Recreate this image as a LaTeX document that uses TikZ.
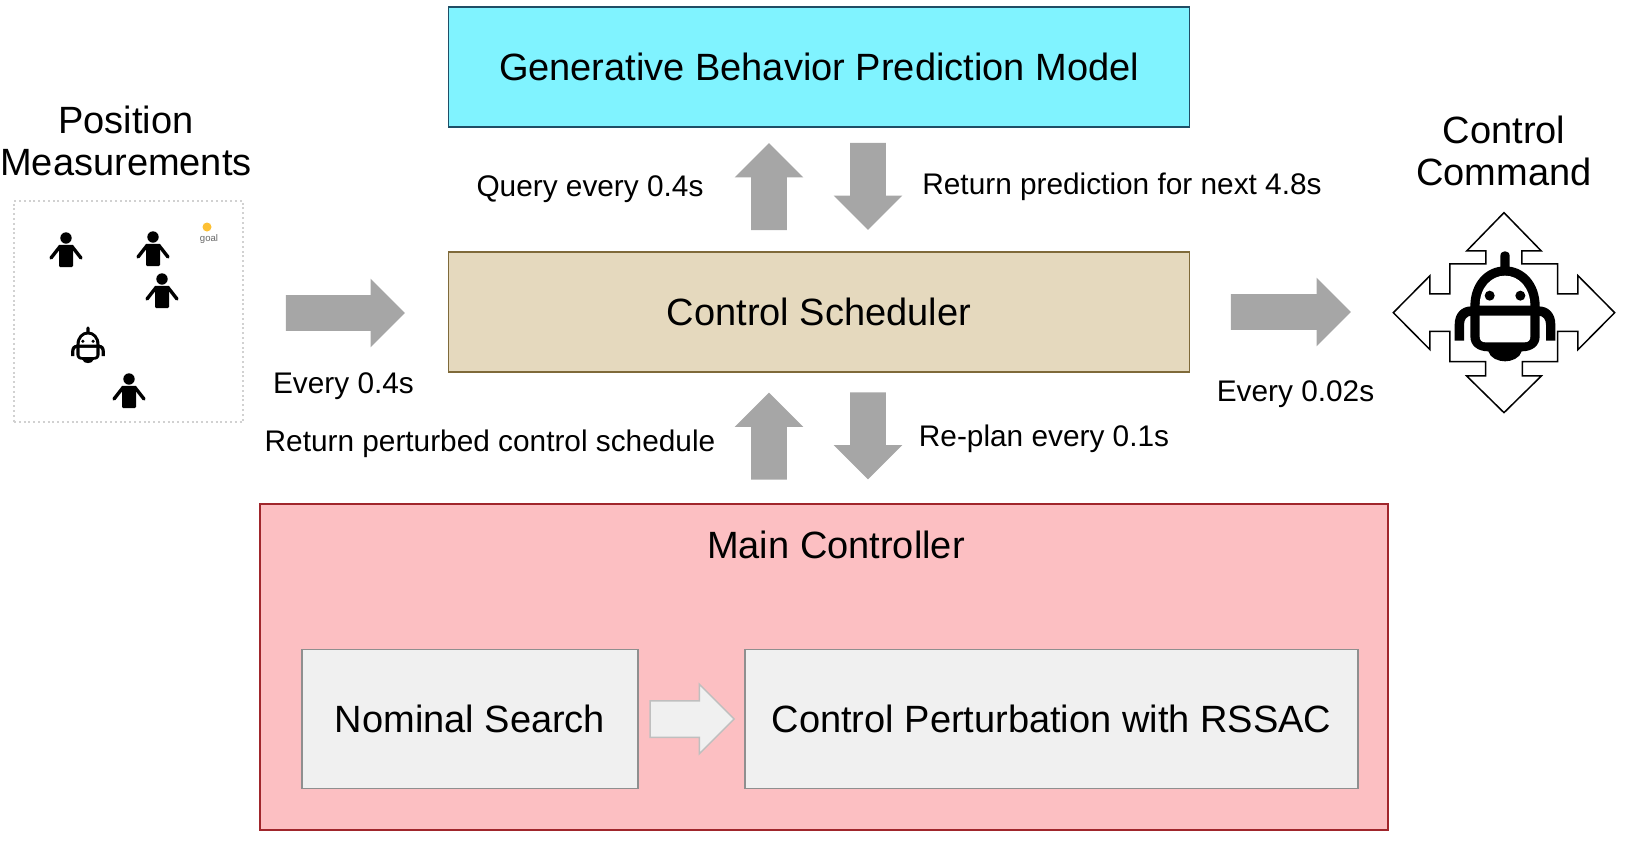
\documentclass[tikz,border=0pt]{standalone}
\usepackage{fontspec}
\setmainfont{Liberation Sans}
\usepackage{xcolor}
\usepackage{tikz}
\usetikzlibrary{shapes.arrows}
\definecolor{genfill}{HTML}{80F3FF}
\definecolor{genline}{HTML}{1F4E66}
\definecolor{schedfill}{HTML}{E5D9BE}
\definecolor{schedline}{HTML}{7F6A3A}
\definecolor{mainfill}{HTML}{FCBFC2}
\definecolor{mainline}{HTML}{A0262C}
\definecolor{subfill}{HTML}{F0F0F0}
\definecolor{subline}{HTML}{8F8F8F}
\definecolor{flowgray}{HTML}{A6A6A6}
\definecolor{goalcol}{HTML}{FDC033}
\newcommand{\bigtxt}{\fontsize{19}{21}\selectfont}
\newcommand{\smalltxt}{\fontsize{14.9}{18}\selectfont}
\tikzstyle{box}=[draw,rectangle,line width=0.75pt,inner sep=0,outer sep=0,align=center,font=\bigtxt]
\tikzstyle{wide}=[box,minimum width=370.5pt,minimum height=60pt]
\tikzstyle{sub}=[box,fill=subfill,draw=subline,minimum height=69.5pt]
\tikzstyle{lab}=[align=center,inner sep=0,font=\smalltxt]
\tikzstyle{head}=[align=center,inner sep=0,font=\bigtxt]
\tikzstyle{flowbase}=[single arrow,single arrow head extend=8.25pt,single arrow tip angle=90,single arrow head indent=0,
inner xsep=0,inner ysep=8.75pt,outer sep=0]
\tikzstyle{flow}=[flowbase,fill=flowgray]
\tikzset{
person/.pic={
	\fill[black] (0,0) circle[radius=5.7];
	\fill[black,rounded corners=0.6pt] (-7,7) rectangle (7,29);
	\draw[black,line width=1.7pt,line cap=round] (-15,20) -- (-6,8.5) -- (6,8.5) -- (15,20);
},
robot/.pic={
	\fill[black] (-14,-130) -- (-14,-171) .. controls (-14,-190) and (14,-190) .. (14,-171) -- (14,-130) -- cycle;
	% shell with the bump below
	\fill[black] (-104,-20) .. controls (-104,-92) and (-57,-140) .. (0,-140)
		.. controls (57,-140) and (104,-92) .. (104,-20) -- (104,70)
		.. controls (104,100) and (80,115) .. (50,115)
		.. controls (45,135) and (20,145) .. (0,145)
		.. controls (-20,145) and (-45,135) .. (-50,115)
		.. controls (-80,115) and (-104,100) .. (-104,70) -- cycle;
	% arms
	\fill[black] (-100,-20) .. controls (-130,-20) and (-151,0) .. (-151,35) -- (-151,83) -- (-123,83) -- (-123,35)
		.. controls (-123,20) and (-115,8) .. (-100,8) -- cycle;
	\fill[black] (100,-20) .. controls (130,-20) and (151,0) .. (151,35) -- (151,83) -- (123,83) -- (123,35)
		.. controls (123,20) and (115,8) .. (100,8) -- cycle;
	% face and belly
	\fill[white] (-76,-22) .. controls (-76,-75) and (-42,-112) .. (0,-112)
		.. controls (42,-112) and (76,-75) .. (76,-22) -- cycle;
	\fill[white] (-76,8) -- (76,8) -- (76,70) .. controls (76,82) and (70,88) .. (58,88)
		-- (-58,88) .. controls (-70,88) and (-76,82) .. (-76,70) -- cycle;
	\fill[black] (-46,-52) circle[radius=15];
	\fill[black] (46,-52) circle[radius=15];
}}
\begin{document}
\begin{tikzpicture}[x=0.5pt,y=-0.5pt]
	\useasboundingbox (0,0) rectangle (1632,846);

	\node[wide,fill=genfill,draw=genline] (GEN) at (819,67) {Generative Behavior Prediction Model};
	\node[wide,fill=schedfill,draw=schedline] (SCHED) at (819,312) {Control Scheduler};

	\node[box,fill=mainfill,draw=mainline,line width=0.6pt,minimum width=564pt,minimum height=163pt] (MAIN) at (824,667) {};
	\node[head] (maintxt) at (836,544.5) {Main Controller};
	\node[sub,minimum width=168pt] (nominal) at (470,719) {Nominal Search};
	\node[sub,minimum width=306.5pt] (perturb) at (1051.5,719) {Control Perturbation with RSSAC};
	\node[flowbase,minimum height=42pt,fill=subfill,draw=black!25,line width=0.75pt] (step1) at (683,719) {};

% % % arrows around the scheduler
	\node[flow,minimum height=43.5pt,rotate=90] (queryup) at (769,195.5) {};
	\node[flow,minimum height=43.5pt,rotate=-90] (predown) at (868,177.5) {};
	\node[flow,minimum height=43.5pt,rotate=90] (backup) at (769,445) {};
	\node[flow,minimum height=43.5pt,rotate=-90] (plandown) at (868,427) {};
	\node[flow,minimum height=59.5pt] (posin) at (336.5,313) {};
	\node[flow,minimum height=60pt] (cmdout) at (1282,312) {};

	\node[lab] (query) at (590,189) {Query every 0.4s};
	\node[lab] (pred) at (1122,187) {Return prediction for next 4.8s};
	\node[lab] (every1) at (343.5,386) {Every 0.4s};
	\node[lab] (back) at (490,444) {Return perturbed control schedule};
	\node[lab] (replan) at (1044,439) {Re-plan every 0.1s};
	\node[lab] (every2) at (1295.5,394) {Every 0.02s};

% % % measurements
	\node[head] (postxt) at (126,141) {Position\\Measurements};
	\node[draw=black!18,dash pattern=on 1pt off 1.4pt,line width=1pt,inner sep=0,minimum width=114.5pt,minimum height=110.5pt] (field) at (128.5,311.5) {};
	\pic at (66,238) {person};
	\pic at (153,237) {person};
	\pic at (162,279) {person};
	\pic at (129,379) {person};
	\pic[scale=1/9] at (88,347) {robot};
	\node[circle,fill=goalcol,inner sep=0,minimum size=4.5pt] (goal) at (207,227) {};
	\node[inner sep=0,text=black!60,font=\fontsize{4.8}{5}\selectfont] (goaltxt) at (209,239) {goal};

% % % command
	\node[head] (cmdtxt) at (1504,151) {Control\\Command};
	\draw[black,line width=0.75pt,scale=1/3,shift={(4512,938)}]
		(0,-300) -- (112,-185) -- (54,-185) -- (54,-146) -- (161,-146) -- (161,-56) -- (222,-56)
		-- (222,-111) -- (332,0) -- (222,111) -- (222,56) -- (161,56) -- (161,147) -- (55,147)
		-- (55,190) -- (112,190) -- (0,300) -- (-112,190) -- (-55,190) -- (-55,147) -- (-162,147)
		-- (-162,56) -- (-222,56) -- (-222,111) -- (-332,0) -- (-222,-111) -- (-222,-56)
		-- (-162,-56) -- (-162,-146) -- (-54,-146) -- (-54,-185) -- (-112,-185) -- cycle;
	\pic[scale=1/3] at (1505,313) {robot};
\end{tikzpicture}
\end{document}
